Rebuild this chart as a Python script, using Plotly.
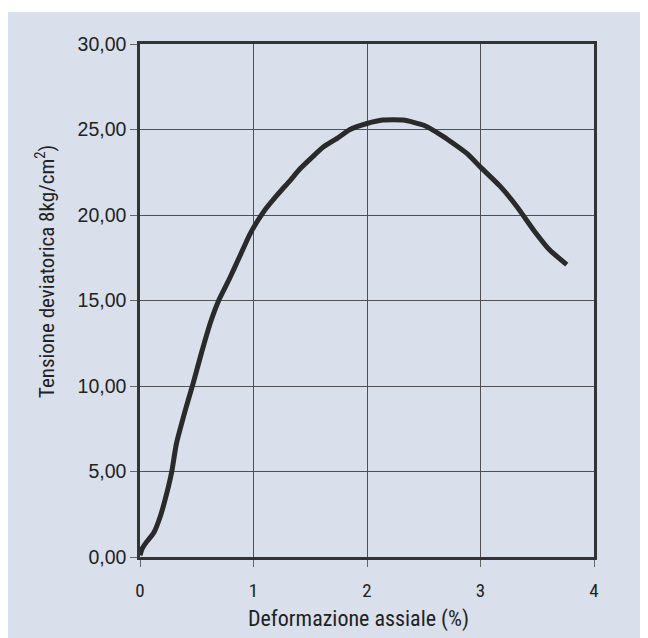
import plotly.graph_objects as go

# Data
strain = [0.0, 0.02, 0.06, 0.12, 0.18, 0.235, 0.28, 0.32, 0.40, 0.47, 0.54, 0.62, 0.70,
          0.79, 0.88, 0.97, 1.09, 1.20, 1.32, 1.41, 1.52, 1.62, 1.74, 1.85, 2.0, 2.14,
          2.32, 2.50, 2.67, 2.88, 3.0, 3.17, 3.32, 3.47, 3.61, 3.76]
stress = [0.1, 0.5, 0.9, 1.4, 2.4, 3.7, 5.0, 6.6, 8.6, 10.2, 11.9, 13.7, 15.1,
          16.3, 17.6, 18.9, 20.2, 21.1, 22.0, 22.7, 23.4, 24.0, 24.5, 25.0, 25.35, 25.55,
          25.55, 25.25, 24.6, 23.6, 22.8, 21.7, 20.5, 19.1, 17.95, 17.1]

x_ticks = [0, 1, 2, 3, 4]
y_ticks = [0, 5, 10, 15, 20, 25, 30]
x_title = "Deformazione assiale (%)"
y_title = "Tensione deviatorica 8kg/cm<sup>2</sup>)"

# page body has an 8px margin, so the figure is 8px smaller each way
W, H = 640, 630
L, R, T, B = 132, 54, 36, 81
pw, ph = W - L - R, H - T - B

FONT = "Liberation Sans Narrow, Roboto Condensed, Arial Narrow, Liberation Sans, Arial, sans-serif"
TICKFONT = "Liberation Sans, Arial, Helvetica, sans-serif"
TXT = "#222222"

fig = go.Figure()
fig.add_trace(go.Scatter(
    x=strain, y=stress, mode="lines",
    line=dict(color="#2a2a2a", width=5, shape="spline", smoothing=0.5),
    hoverinfo="skip", showlegend=False,
))

bg = "#d9e0ec"
fig.add_shape(type="rect", xref="paper", yref="paper",
              x0=-L / pw - 0.02, x1=(W - L) / pw + 0.02,
              y0=-B / ph - 0.02, y1=(T - 4 + ph) / ph,
              fillcolor=bg, line=dict(width=0), layer="below")

axis_common = dict(
    showline=True, mirror=True, linecolor="#333333", linewidth=2.5,
    showgrid=True, gridcolor="#505050", gridwidth=1.2,
    ticks="outside", ticklen=7, tickcolor="#666666", tickwidth=1,
    zeroline=False,
)

fig.update_xaxes(range=[0, 4], tickvals=x_ticks, ticktext=[str(v) for v in x_ticks],
                 tickfont=dict(family=FONT, size=19, color=TXT),
                 ticklabelstandoff=7, **axis_common)
fig.update_yaxes(range=[0, 30], tickvals=y_ticks,
                 ticktext=[f"{v:.2f}".replace(".", ",") for v in y_ticks],
                 tickfont=dict(family=TICKFONT, size=19.5, color=TXT),
                 **axis_common)

fig.add_annotation(text=x_title, xref="paper", yref="paper",
                   x=(350 - L) / pw, y=(T + ph - 611) / ph,
                   showarrow=False, xanchor="center", yanchor="middle",
                   font=dict(family=FONT, size=22, color=TXT))
fig.add_annotation(text=y_title, xref="paper", yref="paper",
                   x=(37 - L) / pw, y=(T + ph - 264) / ph, textangle=-90,
                   showarrow=False, xanchor="center", yanchor="middle",
                   font=dict(family=FONT, size=21, color=TXT))

fig.update_layout(
    width=W, height=H,
    margin=dict(l=L, r=R, t=T, b=B),
    paper_bgcolor="white", plot_bgcolor="rgba(0,0,0,0)",
)

fig.write_html("out.html")
